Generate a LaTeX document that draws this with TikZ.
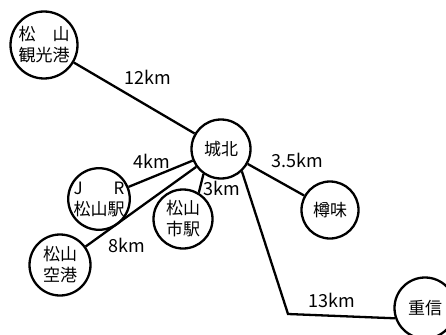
\documentclass[tikz,border=0pt]{standalone}
\usepackage{fontspec}
\setmainfont{Noto Sans CJK JP}
\begin{document}
\begin{tikzpicture}[x=1pt,y=-1pt,
  stn/.style={circle,draw,line width=2.3pt,inner sep=0pt,minimum size=59pt,
    font=\fontsize{17}{21}\selectfont,align=center},
  link/.style={line width=2.3pt},
  dist/.style={font=\fontsize{18}{21}\selectfont,inner sep=0pt}]
\useasboundingbox (0,0) rectangle (446,334);
% stations
\node[stn,minimum size=67pt] (kanko) at (44,45) {\makebox[3em][s]{松\hfill 山}\\観光港};
\node[stn] (jo) at (221,149) {城北};
\node[stn] (jr) at (99,199) {\makebox[3em][s]{J\hfill R}\\松山駅};
\node[stn] (shi) at (183,219) {松山\\市駅};
\node[stn,minimum size=61pt] (kuko) at (60,265) {松山\\空港};
\node[stn,minimum size=57pt] (taru) at (330,210) {樽味};
\node[stn,minimum size=61pt] (shige) at (425,308) {重信};
\coordinate (corner) at (288,314);
% links
\draw[link] (kanko) -- (jo);
\draw[link] (jo) -- (jr);
\draw[link] (jo) -- (kuko);
\draw[link] (jo.-125) -- (shi.59);
\draw[link] (jo) -- (taru);
\draw[link,line join=miter] (jo.-47) -- (corner) -- (shige.199);
% distances
\node[dist] (d12) at (148,77) {12km};
\node[dist] (d4) at (152,161) {4km};
\node[dist] (d3) at (222,188) {3km};
\node[dist] (d8) at (127,245) {8km};
\node[dist] (d35) at (297,160) {3.5km};
\node[dist] (d13) at (332,300) {13km};
\end{tikzpicture}
\end{document}
